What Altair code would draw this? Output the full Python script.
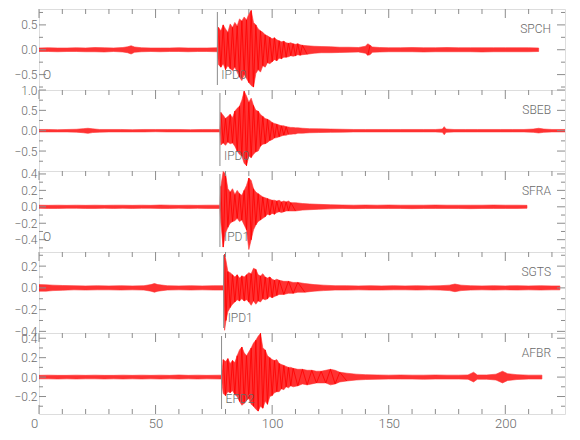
import altair as alt
import pandas as pd

# ---------------- data ----------------
X_DOMAIN = [0, 225.6]
X_MAJOR = [0, 50, 100, 150, 200]
X_MINOR = [10, 20, 30, 40, 60, 70, 80, 90, 110, 120, 130, 140, 160, 170, 180, 190, 210, 220]

STATIONS = ["SPCH", "SBEB", "SFRA", "SGTS", "AFBR"]
PHASES = ["IPD0", "IPD0", "IPD1", "IPD1", "EPD2"]
PICK_TIMES = [76.5, 77.6, 77.6, 79.2, 78.3]
ORIGIN_TIME = 0
ORIGIN_LABEL = ["O", "", "O", "", ""]

Y_DOMAINS = [[-0.81, 0.82], [-0.99, 1.0], [-0.55, 0.436], [-0.415, 0.33], [-0.38, 0.454]]
Y_LABELS = [[-0.5, 0.0, 0.5], [-0.5, 0.0, 0.5, 1.0], [-0.4, -0.2, 0.0, 0.2, 0.4],
            [-0.4, -0.2, 0.0, 0.2], [-0.2, 0.0, 0.2, 0.4]]
Y_MINOR = [[-0.75, -0.25, 0.25, 0.75], [-0.75, -0.25, 0.25, 0.75], [-0.5, -0.3, -0.1, 0.1, 0.3],
           [-0.3, -0.1, 0.1, 0.3], [-0.3, -0.1, 0.1, 0.3]]

# envelope of each trace: (time s, upper amplitude, lower amplitude)
SPCH = [(0, .035, -.035), (4, .04, -.035), (8, .035, -.04), (12, .035, -.035), (16, .04, -.035),
        (20, .035, -.04), (24, .045, -.04), (28, .04, -.045), (32, .035, -.035), (36, .045, -.045),
        (38, .06, -.06), (39.5, .08, -.085), (41, .055, -.05), (44, .04, -.04), (48, .035, -.035),
        (52, .035, -.04), (56, .035, -.035), (60, .04, -.035), (64, .035, -.04), (68, .035, -.035),
        (72, .035, -.035), (76.5, .04, -.04),
        (77, .45, -.30), (78, .38, -.35), (79, .50, -.28), (80, .42, -.40), (81, .35, -.32),
        (82, .52, -.38), (83, .45, -.42), (84, .55, -.35), (85, .48, -.45), (86, .62, -.55),
        (87, .58, -.62), (88, .66, -.50), (89, .60, -.58), (90, .72, -.66), (91, .79, -.72),
        (92, .55, -.75), (93, .50, -.48), (94, .42, -.40), (95, .38, -.45), (96, .35, -.32),
        (97, .30, -.35), (98, .28, -.26), (99, .25, -.28), (100, .22, -.24), (101, .24, -.20),
        (102, .20, -.22), (103, .18, -.17), (104, .16, -.18), (105, .17, -.15), (106, .14, -.15),
        (107, .13, -.14), (108, .14, -.12), (109, .12, -.13), (110, .11, -.12), (111, .12, -.10),
        (112, .10, -.11), (113, .09, -.10), (115, .08, -.09), (118, .07, -.07), (121, .065, -.06),
        (125, .06, -.06), (129, .05, -.055), (133, .05, -.05), (137, .045, -.045), (140, .07, -.07),
        (141, .12, -.11), (142, .09, -.10), (143, .055, -.05), (146, .045, -.045), (150, .04, -.04),
        (155, .04, -.04), (160, .045, -.04), (165, .04, -.045), (170, .04, -.04), (175, .045, -.04),
        (180, .04, -.04), (185, .04, -.04), (190, .04, -.045), (195, .04, -.04), (200, .04, -.04),
        (205, .04, -.04), (210, .04, -.04), (214.3, .035, -.035)]

SBEB = [(0, .03, -.03), (4, .03, -.03), (8, .025, -.03), (12, .03, -.03), (16, .035, -.035),
        (19, .05, -.05), (21, .06, -.065), (23, .045, -.045), (26, .03, -.035), (30, .03, -.03),
        (35, .03, -.03), (40, .025, -.03), (45, .03, -.03), (50, .03, -.025), (55, .03, -.03),
        (60, .03, -.03), (65, .025, -.03), (70, .03, -.03), (74, .03, -.03), (77.6, .03, -.03),
        (78, .45, -.35), (79, .38, -.30), (80, .30, -.36), (81, .35, -.28), (82, .40, -.32),
        (83, .32, -.30), (84, .48, -.38), (85, .55, -.50), (86, .60, -.58), (87, .75, -.62),
        (88, .97, -.80), (89, .85, -.86), (90, .70, -.62), (91, .80, -.66), (92, .62, -.58),
        (93, .50, -.52), (94, .48, -.50), (95, .40, -.38), (96, .35, -.33), (97, .30, -.32),
        (98, .28, -.29), (99, .25, -.24), (100, .20, -.22), (101, .18, -.18), (102, .16, -.17),
        (103, .14, -.15), (104, .12, -.13), (105, .12, -.11), (106, .10, -.11), (107, .09, -.09),
        (108, .08, -.09), (109, .08, -.08), (110, .07, -.08), (111, .07, -.06), (113, .06, -.06),
        (116, .05, -.05), (120, .045, -.045), (125, .04, -.04), (130, .035, -.035), (135, .03, -.03),
        (140, .03, -.03), (145, .03, -.03), (150, .03, -.03), (155, .03, -.03), (160, .03, -.03),
        (165, .03, -.03), (170, .03, -.03), (173, .04, -.04), (173.8, .10, -.10), (174.6, .04, -.04),
        (178, .03, -.03), (183, .03, -.03), (188, .03, -.03), (193, .03, -.03), (198, .03, -.03),
        (203, .03, -.03), (208, .03, -.03), (212, .04, -.04), (214.3, .06, -.055), (216.5, .04, -.04),
        (220, .03, -.03), (225.6, .03, -.03)]

SFRA = [(0, .02, -.018), (4, .018, -.02), (8, .02, -.02), (12, .018, -.018), (16, .02, -.018),
        (20, .018, -.02), (24, .02, -.02), (28, .018, -.018), (32, .02, -.02), (36, .02, -.018),
        (40, .018, -.02), (44, .02, -.018), (48, .018, -.018), (52, .022, -.02), (56, .02, -.02),
        (60, .018, -.018), (64, .02, -.02), (68, .018, -.018), (72, .02, -.02), (77.6, .02, -.02),
        (78, .25, -.20), (79, .43, -.49), (80, .40, -.32), (81, .22, -.25), (82, .18, -.20),
        (83, .22, -.18), (84, .15, -.17), (85, .20, -.14), (86, .16, -.18), (87, .14, -.16),
        (88, .20, -.22), (89, .26, -.28), (90, .35, -.52), (91, .32, -.40), (92, .22, -.28),
        (93, .18, -.22), (94, .16, -.18), (95, .14, -.16), (96, .12, -.14), (97, .11, -.12),
        (98, .10, -.09), (99, .09, -.10), (100, .08, -.08), (101, .08, -.09), (102, .07, -.07),
        (103, .08, -.06), (104, .06, -.07), (105, .07, -.06), (106, .06, -.05), (107, .07, -.05),
        (108, .05, -.05), (110, .05, -.05), (113, .04, -.04), (116, .035, -.035), (120, .03, -.03),
        (125, .025, -.025), (130, .022, -.02), (135, .02, -.022), (140, .022, -.02), (145, .02, -.02),
        (150, .022, -.02), (155, .02, -.02), (160, .02, -.022), (165, .02, -.02), (170, .022, -.02),
        (175, .02, -.02), (180, .02, -.02), (185, .02, -.022), (190, .02, -.02), (195, .022, -.02),
        (200, .02, -.02), (205, .02, -.02), (209.3, .018, -.018)]

SGTS = [(0, .03, -.03), (3, .028, -.03), (6, .025, -.025), (10, .022, -.022), (15, .02, -.018),
        (20, .018, -.02), (25, .02, -.018), (30, .018, -.018), (35, .02, -.02), (40, .018, -.018),
        (45, .02, -.02), (48, .03, -.03), (49.5, .04, -.04), (51, .03, -.03), (55, .02, -.02),
        (60, .018, -.018), (65, .02, -.02), (70, .018, -.018), (75, .02, -.02), (79.2, .02, -.02),
        (79.6, .31, -.39), (80.2, .25, -.30), (81, .15, -.22), (82, .14, -.18), (83, .12, -.15),
        (84, .10, -.13), (85, .12, -.11), (86, .09, -.12), (87, .11, -.10), (88, .10, -.12),
        (89, .12, -.11), (90, .14, -.13), (91, .13, -.16), (92, .18, -.12), (93, .17, -.15),
        (94, .12, -.12), (95, .11, -.13), (96, .13, -.10), (97, .10, -.11), (98, .09, -.10),
        (99, .10, -.08), (100, .08, -.09), (101, .07, -.08), (102, .08, -.07), (103, .07, -.06),
        (105, .06, -.06), (107, .06, -.05), (109, .05, -.05), (111, .05, -.04), (114, .04, -.04),
        (118, .03, -.03), (122, .025, -.025), (127, .02, -.02), (132, .02, -.02), (137, .018, -.018),
        (142, .02, -.02), (147, .018, -.02), (152, .02, -.018), (157, .018, -.018), (162, .02, -.02),
        (167, .018, -.018), (172, .02, -.02), (176, .025, -.025), (178.4, .035, -.035), (181, .025, -.025),
        (185, .02, -.02), (190, .018, -.018), (195, .02, -.02), (200, .018, -.018), (205, .02, -.02),
        (210, .018, -.018), (215, .02, -.02), (220, .018, -.018), (223.4, .018, -.018)]

AFBR = [(0, .018, -.018), (4, .02, -.018), (8, .018, -.02), (12, .018, -.018), (16, .02, -.02),
        (20, .018, -.018), (24, .02, -.018), (28, .018, -.02), (32, .018, -.018), (36, .02, -.02),
        (40, .018, -.018), (44, .02, -.02), (48, .018, -.018), (52, .02, -.02), (56, .018, -.018),
        (60, .022, -.02), (64, .018, -.018), (68, .02, -.02), (72, .018, -.018), (78.3, .02, -.02),
        (79, .18, -.17), (80, .16, -.19), (81, .19, -.15), (82, .14, -.16), (83, .17, -.14),
        (84, .15, -.18), (85, .22, -.20), (86, .28, -.25), (87, .31, -.29), (88, .25, -.27),
        (89, .22, -.24), (90, .26, -.22), (91, .30, -.28), (92, .35, -.30), (93, .38, -.33),
        (94, .42, -.35), (95, .45, -.30), (96, .30, -.32), (97, .28, -.25), (98, .22, -.28),
        (99, .20, -.20), (100, .18, -.19), (101, .17, -.16), (102, .18, -.15), (103, .14, -.15),
        (104, .13, -.12), (105, .12, -.13), (106, .11, -.10), (107, .10, -.11), (108, .10, -.09),
        (109, .09, -.10), (111, .08, -.09), (113, .08, -.07), (115, .07, -.08), (117, .07, -.07),
        (119, .06, -.06), (121, .06, -.06), (123, .07, -.06), (125, .08, -.08), (127, .07, -.07),
        (129, .05, -.05), (132, .04, -.04), (136, .03, -.03), (140, .025, -.025), (145, .022, -.022),
        (150, .02, -.02), (155, .022, -.02), (160, .02, -.02), (165, .02, -.022), (170, .022, -.02),
        (175, .02, -.02), (180, .02, -.02), (184, .022, -.022), (186.4, .05, -.05), (188, .022, -.022),
        (192, .022, -.022), (196, .03, -.03), (198.8, .06, -.06), (201, .035, -.035), (205, .025, -.025),
        (210, .02, -.02), (215.7, .02, -.02)]

TRACES = [SPCH, SBEB, SFRA, SGTS, AFBR]

# ---------------- styling ----------------
W, H = 526, 81
FONT = "Liberation Sans Narrow, Roboto, sans-serif"
AX = "#8c8c8c"
TXT = "#6a6a6a"
RED = "#ff0000"


def zigzag(rows, span):
    """Zigzag between the read peaks, only where the trace is clearly above the noise."""
    out, seg, prev_in = [], 0, False
    for j, (t, u, l) in enumerate(rows):
        inside = (u - l) > 0.09 * span
        if inside and not prev_in:
            seg += 1
        if inside:
            out.append({"t": t, "v": (u if j % 2 == 0 else l), "k": j, "seg": seg})
        prev_in = inside
    return pd.DataFrame(out)


def panel(i, bottom):
    xs = alt.Scale(domain=X_DOMAIN, nice=False, zero=False)
    ys = alt.Scale(domain=Y_DOMAINS[i], nice=False, zero=False)
    if bottom:
        xaxis = alt.Axis(values=X_MAJOR, format="d", ticks=False, domain=False, grid=False,
                         labelPadding=3, labelFontSize=13, labelColor=TXT, labelFont=FONT,
                         labelFontWeight=300, labelFlush=False, labelOverlap=False,
                         labelOffset={"condition": {"test": "datum.value === 0", "value": -5}, "value": 0})
    else:
        xaxis = None
    yaxis = alt.Axis(values=Y_LABELS[i], format=".1f", ticks=False, domain=False, grid=False,
                     labelPadding=2, labelFontSize=12, labelColor=TXT, labelFont=FONT,
                     labelFontWeight=300, labelFlush=False, labelOverlap=False,
                     minExtent=28, maxExtent=28)

    def X(f):
        return alt.X(f, type="quantitative", scale=xs, axis=xaxis, title=None)

    def Y(f):
        return alt.Y(f, type="quantitative", scale=ys, axis=yaxis, title=None)

    env = pd.DataFrame(TRACES[i], columns=["t", "up", "lo"])
    span = Y_DOMAINS[i][1] - Y_DOMAINS[i][0]
    zig = zigzag(TRACES[i], span)

    area = alt.Chart(env).mark_area(color=RED, opacity=0.8, clip=True,
                                    stroke=RED, strokeWidth=0.6).encode(
        x=X("t"), y=Y("up"), y2="lo")
    line = alt.Chart(zig).mark_line(color=RED, strokeWidth=0.8, clip=True).encode(
        x=X("t"), y=Y("v"), order="k:Q", detail="seg:N")

    xmaj = pd.DataFrame({"x": X_MAJOR})
    xmin = pd.DataFrame({"x": X_MINOR})
    ymaj = pd.DataFrame({"y": Y_LABELS[i]})
    ymin = pd.DataFrame({"y": Y_MINOR[i]})

    layers = [area, line]
    tick = dict(color=AX, strokeWidth=1)
    layers.append(alt.Chart(xmaj).mark_rule(**tick).encode(x=X("x"), y=alt.value(0), y2=alt.value(9)))
    layers.append(alt.Chart(xmin).mark_rule(**tick).encode(x=X("x"), y=alt.value(0), y2=alt.value(5)))
    if bottom:
        layers.append(alt.Chart(xmaj).mark_rule(**tick).encode(x=X("x"), y=alt.value(H), y2=alt.value(H - 9)))
        layers.append(alt.Chart(xmin).mark_rule(**tick).encode(x=X("x"), y=alt.value(H), y2=alt.value(H - 5)))
    layers.append(alt.Chart(ymaj).mark_rule(**tick).encode(y=Y("y"), x=alt.value(0), x2=alt.value(7)))
    layers.append(alt.Chart(ymin).mark_rule(**tick).encode(y=Y("y"), x=alt.value(0), x2=alt.value(4)))
    layers.append(alt.Chart(ymaj).mark_rule(**tick).encode(y=Y("y"), x=alt.value(W), x2=alt.value(W - 8)))
    layers.append(alt.Chart(ymin).mark_rule(**tick).encode(y=Y("y"), x=alt.value(W), x2=alt.value(W - 4)))

    txt = dict(baseline="middle", font=FONT, fontSize=12, fontWeight=300, color=TXT)
    pick = pd.DataFrame({"t": [PICK_TIMES[i]], "name": [PHASES[i]]})
    layers.append(alt.Chart(pick).mark_rule(color=AX, strokeWidth=1).encode(
        x=X("t"), y=alt.value(3), y2=alt.value(H - 5)))
    layers.append(alt.Chart(pick).mark_text(align="left", dx=4, **txt).encode(
        x=X("t"), y=alt.value(H - 15), text="name:N"))
    if ORIGIN_LABEL[i]:
        org = pd.DataFrame({"t": [ORIGIN_TIME], "name": [ORIGIN_LABEL[i]]})
        layers.append(alt.Chart(org).mark_text(align="left", dx=4, **txt).encode(
            x=X("t"), y=alt.value(H - 15), text="name:N"))
    st = pd.DataFrame({"name": [STATIONS[i]]})
    layers.append(alt.Chart(st).mark_text(align="right", **txt).encode(
        x=alt.value(W - 14), y=alt.value(20), text="name:N"))

    return alt.layer(*layers).properties(width=W, height=H)


chart = alt.vconcat(*[panel(i, i == 4) for i in range(5)], spacing=0, bounds="flush").properties(
    padding={"left": 2, "top": 0, "right": 4, "bottom": 4}
).configure_view(stroke=AX, strokeWidth=1).configure(background="white")

chart.save("out.html", embed_options={"renderer": "svg", "actions": False})
